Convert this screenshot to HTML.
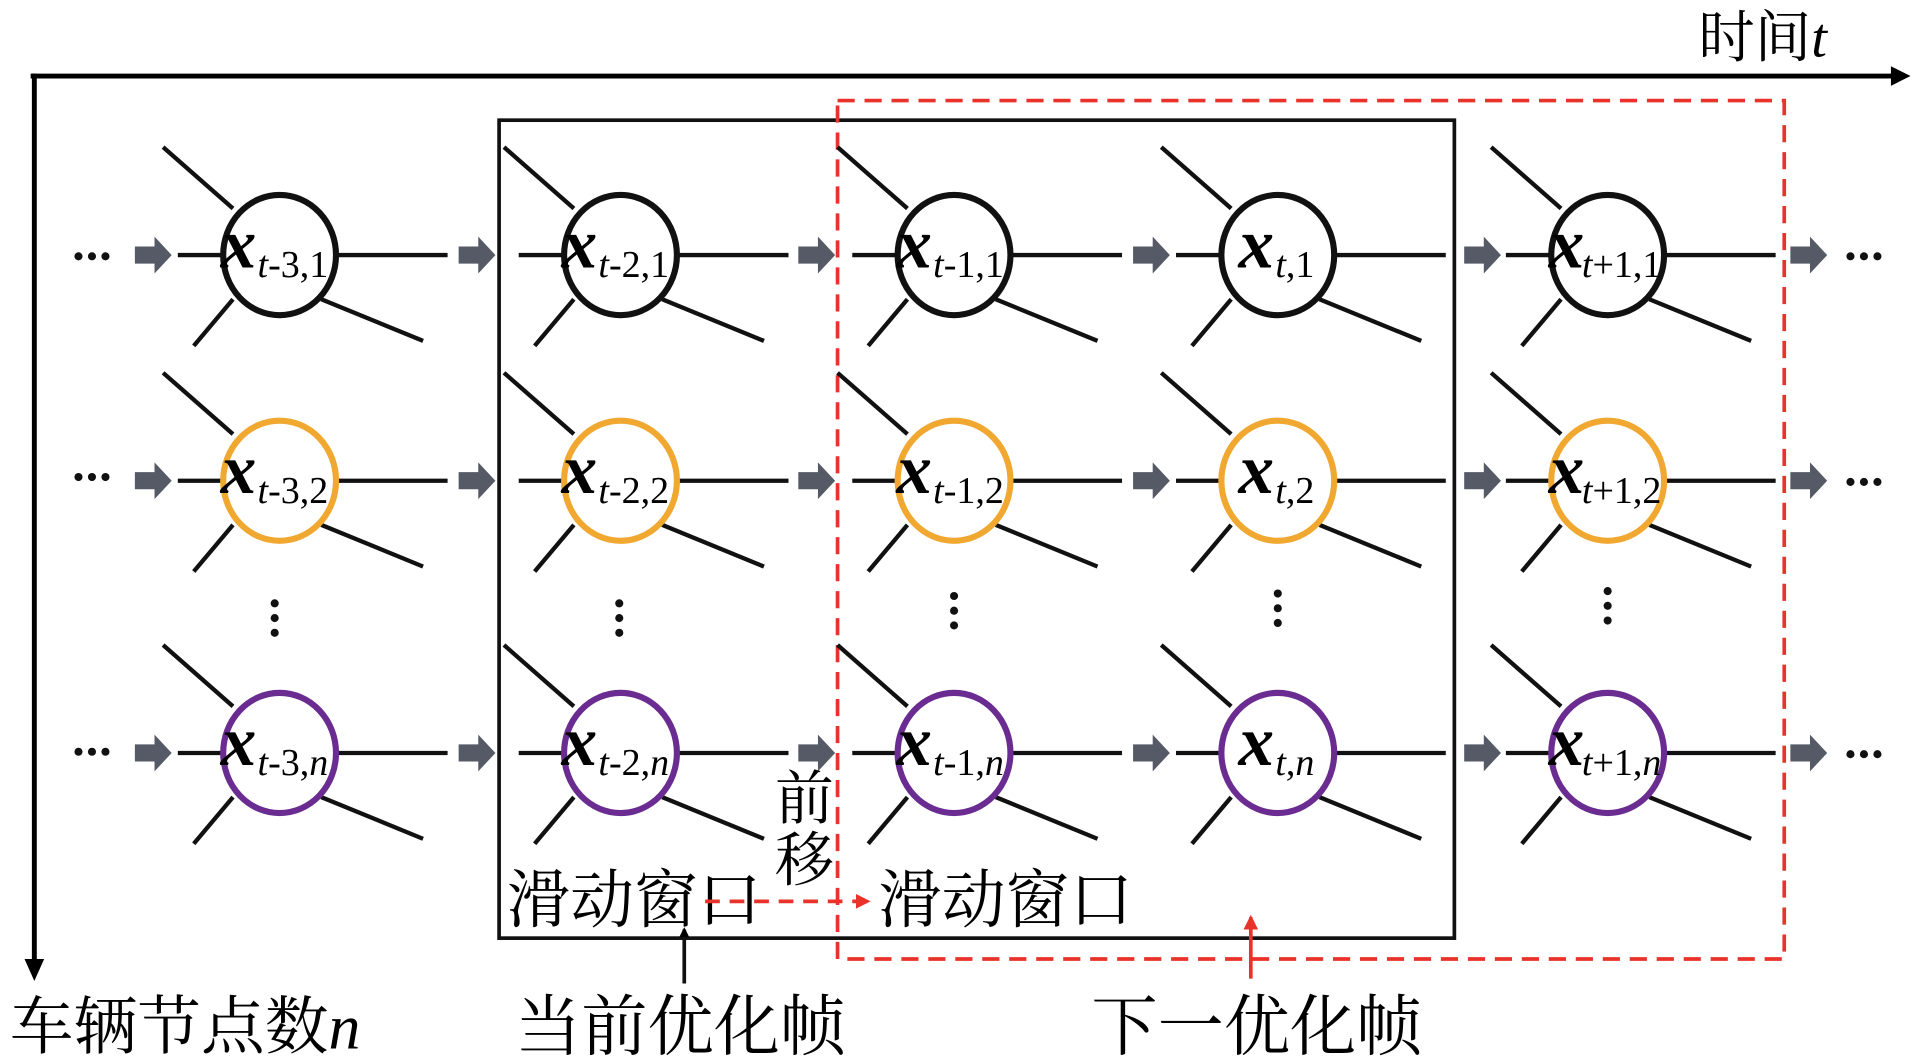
<!DOCTYPE html>
<html><head><meta charset="utf-8"><style>
html,body{margin:0;padding:0;background:#fff}
svg{display:block}
.x{font-family:"Liberation Serif",serif;font-style:italic;font-weight:bold;font-size:58px}
.s{font-family:"Liberation Serif",serif;font-size:31px}
.s tspan.i{font-style:italic}
.cn{font-family:"Liberation Serif","Noto Serif CJK SC",serif}
</style></head><body>
<svg width="1913" height="1062" viewBox="0 0 1560 866" preserveAspectRatio="none" xmlns="http://www.w3.org/2000/svg">
<defs>
<marker id="ab" markerWidth="8" markerHeight="8" refX="6" refY="4" orient="auto" markerUnits="userSpaceOnUse"><path d="M0,0 L8,4 L0,8z" fill="#000"/></marker>
<marker id="ar" markerWidth="12" markerHeight="12" refX="10" refY="6" orient="auto" markerUnits="userSpaceOnUse"><path d="M0,0 L12,6 L0,12z" fill="#e8322a"/></marker>
<g id="spk" stroke="#111" stroke-width="3.5" fill="none">
<line x1="-95" y1="-88" x2="-38" y2="-38"/>
<line x1="-70" y1="74" x2="-38" y2="36"/>
<line x1="34" y1="36" x2="117" y2="70"/>
<line x1="-83" y1="0" x2="-46" y2="0"/>
<line x1="46" y1="0" x2="137" y2="0"/>
</g>
<path id="ga" d="M0,-7 H16 V-15 L30,0 L16,15 V7 H0z" fill="#555a66"/>
</defs>
<line x1="25" y1="62" x2="1550" y2="62" stroke="#000" stroke-width="4"/>
<path d="M1542,54 L1558,62 L1542,70z" fill="#000"/>
<line x1="28" y1="60" x2="28" y2="790" stroke="#000" stroke-width="4"/>
<path d="M20,782 L28,800 L36,782z" fill="#000"/>
<text x="1385" y="46" class="cn" font-size="46">时间<tspan font-style="italic">t</tspan></text>
<text x="8" y="855" class="cn" font-size="52">车辆节点数<tspan font-style="italic">n</tspan></text>
<rect x="407" y="98" width="779" height="667" fill="none" stroke="#111" stroke-width="3"/>
<rect x="683" y="82" width="772" height="700" fill="none" stroke="#e8322a" stroke-width="3" stroke-dasharray="14 8"/>
<g>
<use href="#spk" x="228" y="208"/><use href="#spk" x="506" y="208"/><use href="#spk" x="778" y="208"/><use href="#spk" x="1042" y="208"/><use href="#spk" x="1311" y="208"/>
<use href="#spk" x="228" y="392"/><use href="#spk" x="506" y="392"/><use href="#spk" x="778" y="392"/><use href="#spk" x="1042" y="392"/><use href="#spk" x="1311" y="392"/>
<use href="#spk" x="228" y="614"/><use href="#spk" x="506" y="614"/><use href="#spk" x="778" y="614"/><use href="#spk" x="1042" y="614"/><use href="#spk" x="1311" y="614"/>
</g>
<g fill="#fff" stroke-width="5">
<g stroke="#111">
<ellipse cx="228" cy="208" rx="46" ry="49"/><ellipse cx="506" cy="208" rx="46" ry="49"/><ellipse cx="778" cy="208" rx="46" ry="49"/><ellipse cx="1042" cy="208" rx="46" ry="49"/><ellipse cx="1311" cy="208" rx="46" ry="49"/>
</g>
<g stroke="#f0a830">
<ellipse cx="228" cy="392" rx="46" ry="49"/><ellipse cx="506" cy="392" rx="46" ry="49"/><ellipse cx="778" cy="392" rx="46" ry="49"/><ellipse cx="1042" cy="392" rx="46" ry="49"/><ellipse cx="1311" cy="392" rx="46" ry="49"/>
</g>
<g stroke="#6a2c91">
<ellipse cx="228" cy="614" rx="46" ry="49"/><ellipse cx="506" cy="614" rx="46" ry="49"/><ellipse cx="778" cy="614" rx="46" ry="49"/><ellipse cx="1042" cy="614" rx="46" ry="49"/><ellipse cx="1311" cy="614" rx="46" ry="49"/>
</g>
</g>
<g>
<use href="#ga" x="110" y="208"/><use href="#ga" x="374" y="208"/><use href="#ga" x="651" y="208"/><use href="#ga" x="924" y="208"/><use href="#ga" x="1194" y="208"/><use href="#ga" x="1460" y="208"/>
<use href="#ga" x="110" y="392"/><use href="#ga" x="374" y="392"/><use href="#ga" x="651" y="392"/><use href="#ga" x="924" y="392"/><use href="#ga" x="1194" y="392"/><use href="#ga" x="1460" y="392"/>
<use href="#ga" x="110" y="614"/><use href="#ga" x="374" y="614"/><use href="#ga" x="651" y="614"/><use href="#ga" x="924" y="614"/><use href="#ga" x="1194" y="614"/><use href="#ga" x="1460" y="614"/>
</g>
<g fill="#111">
<g id="hd"><circle cx="64" cy="209" r="3.3"/><circle cx="75" cy="209" r="3.3"/><circle cx="86" cy="209" r="3.3"/></g>
<use href="#hd" y="180"/><use href="#hd" y="404"/>
<use href="#hd" x="1445"/><use href="#hd" x="1445" y="184"/><use href="#hd" x="1445" y="406"/>
<g id="vd"><circle cx="224" cy="492" r="3.3"/><circle cx="224" cy="504" r="3.3"/><circle cx="224" cy="516" r="3.3"/></g>
<use href="#vd" x="281"/><use href="#vd" x="554" y="-6"/><use href="#vd" x="818" y="-8"/><use href="#vd" x="1087" y="-10"/>
</g>
<g>
<text x="180" y="218" class="x">x</text><text x="210" y="226" class="s"><tspan class="i">t</tspan>-3,1</text>
<text x="458" y="218" class="x">x</text><text x="488" y="226" class="s"><tspan class="i">t</tspan>-2,1</text>
<text x="731" y="218" class="x">x</text><text x="761" y="226" class="s"><tspan class="i">t</tspan>-1,1</text>
<text x="1010" y="218" class="x">x</text><text x="1040" y="226" class="s"><tspan class="i">t</tspan>,1</text>
<text x="1263" y="218" class="x">x</text><text x="1290" y="226" class="s"><tspan class="i">t</tspan>+1,1</text>

<text x="180" y="402" class="x">x</text><text x="210" y="410" class="s"><tspan class="i">t</tspan>-3,2</text>
<text x="458" y="402" class="x">x</text><text x="488" y="410" class="s"><tspan class="i">t</tspan>-2,2</text>
<text x="731" y="402" class="x">x</text><text x="761" y="410" class="s"><tspan class="i">t</tspan>-1,2</text>
<text x="1010" y="402" class="x">x</text><text x="1040" y="410" class="s"><tspan class="i">t</tspan>,2</text>
<text x="1263" y="402" class="x">x</text><text x="1290" y="410" class="s"><tspan class="i">t</tspan>+1,2</text>

<text x="180" y="624" class="x">x</text><text x="210" y="632" class="s"><tspan class="i">t</tspan>-3,<tspan class="i">n</tspan></text>
<text x="458" y="624" class="x">x</text><text x="488" y="632" class="s"><tspan class="i">t</tspan>-2,<tspan class="i">n</tspan></text>
<text x="731" y="624" class="x">x</text><text x="761" y="632" class="s"><tspan class="i">t</tspan>-1,<tspan class="i">n</tspan></text>
<text x="1010" y="624" class="x">x</text><text x="1040" y="632" class="s"><tspan class="i">t</tspan>,<tspan class="i">n</tspan></text>
<text x="1263" y="624" class="x">x</text><text x="1290" y="632" class="s"><tspan class="i">t</tspan>+1,<tspan class="i">n</tspan></text>
</g>
<text x="413" y="752" class="cn" font-size="52">滑动窗口</text>
<text x="716" y="752" class="cn" font-size="52">滑动窗口</text>
<text x="632" y="668" class="cn" font-size="48">前</text>
<text x="632" y="718" class="cn" font-size="48">移</text>
<line x1="575" y1="735" x2="708" y2="735" stroke="#e8322a" stroke-width="3" stroke-dasharray="12 8" marker-end="url(#ar)"/>
<line x1="558" y1="802" x2="558" y2="758" stroke="#111" stroke-width="3" marker-end="url(#ab)"/>
<line x1="1020" y1="798" x2="1020" y2="748" stroke="#e8322a" stroke-width="3" marker-end="url(#ar)"/>
<text x="420" y="856" class="cn" font-size="54">当前优化帧</text>
<text x="890" y="856" class="cn" font-size="54">下一优化帧</text>
</svg>
</body></html>
